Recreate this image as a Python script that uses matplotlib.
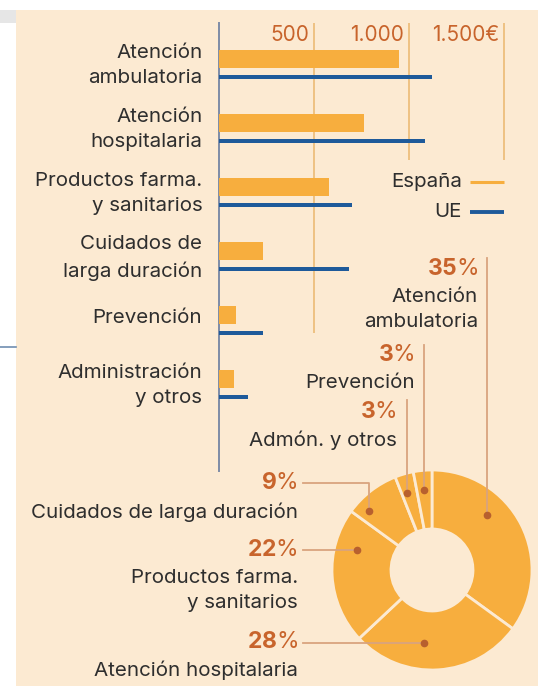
import matplotlib
matplotlib.use("Agg")
import matplotlib.pyplot as plt
from matplotlib.patches import Rectangle

plt.rcParams['font.family'] = ['Inter', 'DejaVu Sans']
plt.rcParams['mathtext.fontset'] = 'custom'
plt.rcParams['mathtext.rm'] = 'Inter'
plt.rcParams['mathtext.bf'] = 'Inter:bold'

# ---------------- data ----------------
categories = ["Atención\nambulatoria", "Atención\nhospitalaria", "Productos farma.\ny sanitarios",
              "Cuidados de\nlarga duración", "Prevención", "Administración\ny otros"]
espana = [947, 763, 579, 232, 89, 79]
ue = [1121, 1084, 700, 684, 232, 153]
tick_values = [500, 1000, 1500]
tick_labels = ["500", "1.000", "1.500€"]

pie_labels = ["Atención\nambulatoria", "Atención hospitalaria", "Productos farma.\ny sanitarios",
              "Cuidados de larga duración", "Admón. y otros", "Prevención"]
pie_shares = [35, 28, 22, 9, 3, 3]

# ---------------- style ----------------
W, H = 538, 686
BG = "#FCEAD2"
ORANGE = "#F7AE3E"
BLUE = "#1E5A9A"
ACCENT = "#C8642C"
LEADER = "#D9A47E"
DOT = "#B8602E"
TXT = "#2E2E2E"
GRID = "#EDBE7C"
AXISC = "#7E8CA6"
FS = 14.8
LS = 1.52

fig = plt.figure(figsize=(W / 100, H / 100), dpi=100)
fig.patch.set_facecolor("white")

# background axes in pixel coordinates
bg = fig.add_axes([0, 0, 1, 1], zorder=0)
bg.set_xlim(0, W); bg.set_ylim(H, 0); bg.axis("off")
bg.add_patch(Rectangle((16, 10), W - 16, H - 10, color=BG, lw=0))
bg.add_patch(Rectangle((0, 10), 16, 13, color="#E6E6E6", lw=0))
bg.plot([0, 16], [347, 347], color="#6F8DB0", lw=1.2)

def px(x0, y0, x1, y1):
    return [x0 / W, 1 - y1 / H, (x1 - x0) / W, (y1 - y0) / H]

# ---------------- bar chart ----------------
ax = fig.add_axes(px(219, 23, 519, 471), zorder=2)
ax.set_facecolor("none")
scale = 0.19  # px per euro
ax.set_xlim(0, 300 / scale)
ax.set_ylim(7, 0)
n = len(categories)
pos_es = [0.5625 + i for i in range(n)]
pos_ue = [0.844 + i for i in range(n)]
ax.barh(pos_es, espana, height=0.285, color=ORANGE, zorder=3)
ax.barh(pos_ue, ue, height=0.075, color=BLUE, zorder=3)

grid_ends = [4.84, 2.14, 2.14]
for v, lab, ge in zip(tick_values, tick_labels, grid_ends):
    ax.vlines(v, 0, ge, color=GRID, lw=1.3, zorder=1)
    ax.annotate(lab, xy=(v, 0.19), xytext=(-3.5, 0), textcoords="offset points",
                ha="right", va="center", color=ACCENT, fontsize=15)

for s in ["top", "right", "bottom"]:
    ax.spines[s].set_visible(False)
ax.spines["left"].set_color(AXISC)
ax.spines["left"].set_linewidth(1.4)
ax.set_xticks([])
ax.set_yticks([p + 0.015 for p in pos_es])
ax.set_yticklabels(categories, fontsize=FS, color=TXT, linespacing=LS)
ax.tick_params(axis="y", length=0, pad=12.0)
for t in ax.get_yticklabels():
    t.set_horizontalalignment("right")
    t.set_multialignment("right")

# legend (text then line)
bg.text(462, 182, "España", ha="right", va="center", fontsize=FS, color=TXT)
bg.plot([470, 504], [182, 182], color=ORANGE, lw=2.2, solid_capstyle="butt")
bg.text(462, 212, "UE", ha="right", va="center", fontsize=FS, color=TXT)
bg.plot([470, 504], [212, 212], color=BLUE, lw=2.8, solid_capstyle="butt")

# ---------------- donut ----------------
cx, cy, R = 432, 570, 100
pax = fig.add_axes(px(cx - R, cy - R, cx + R, cy + R), zorder=2)
pax.pie(pie_shares, startangle=90, counterclock=False, colors=[ORANGE] * len(pie_shares),
        wedgeprops=dict(width=0.59, edgecolor=BG, linewidth=2))
pax.set_xlim(-1, 1); pax.set_ylim(-1, 1)
pax.set_aspect("equal")

ov = fig.add_axes([0, 0, 1, 1], zorder=5)
ov.set_xlim(0, W); ov.set_ylim(H, 0); ov.axis("off")

# leader routes (pixel paths) and label anchors, in pie order
leaders = [
    [(487, 258), (487, 515)],
    [(303, 643), (424, 643)],
    [(303, 550), (357, 550)],
    [(303, 483), (369, 483), (369, 511)],
    [(407, 400), (407, 493)],
    [(424, 345), (424, 490)],
]
label_pos = [(478, 269), (298, 642), (298, 550), (298, 483), (397, 412), (415, 355)]

for share, lab, path, (lx, ly) in zip(pie_shares, pie_labels, leaders, label_pos):
    xs = [p[0] for p in path]; ys = [p[1] for p in path]
    ov.plot(xs, ys, color=LEADER, lw=1.3, zorder=1)
    ov.plot(xs[-1], ys[-1], "o", color=DOT, ms=4.5, zorder=2)
    ov.text(lx, ly, r"$\mathbf{%d}$%%" % share, ha="right", va="center",
            fontsize=16.5, color=ACCENT)
    ov.text(lx, ly + 19, lab, ha="right", va="top", fontsize=FS, color=TXT,
            linespacing=LS, multialignment="right")

fig.savefig("out.png", dpi=100, facecolor=fig.get_facecolor())
